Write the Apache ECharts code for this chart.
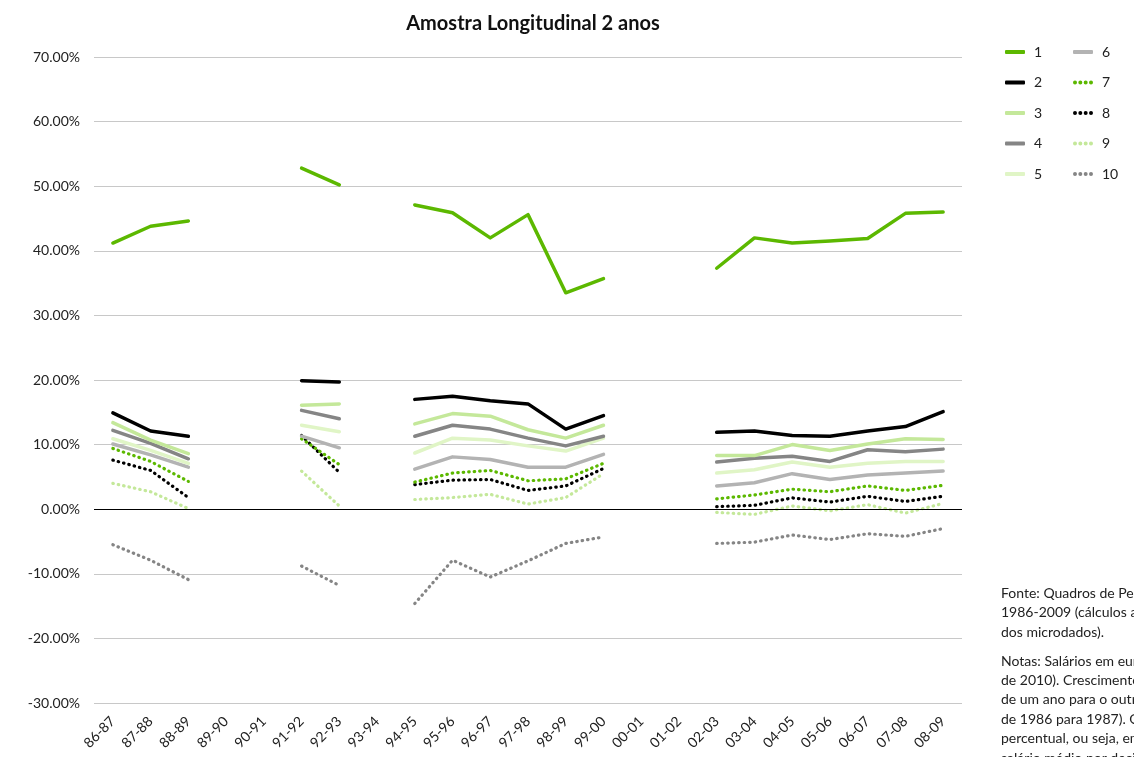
<!DOCTYPE html>
<html><head><meta charset="utf-8">
<script src="https://cdn.jsdelivr.net/npm/echarts@6/dist/echarts.min.js"></script>
<style>html,body{margin:0;padding:0;background:#fff}#c{width:1134px;height:757px}</style>
</head><body><div id="c"></div>
<script>
const categories = ['86-87','87-88','88-89','89-90','90-91','91-92','92-93','93-94','94-95','95-96','96-97','97-98','98-99','99-00','00-01','01-02','02-03','03-04','04-05','05-06','06-07','07-08','08-09'];
const yTicks = [-30,-20,-10,0,10,20,30,40,50,60,70];
const s1  = [41.2,43.8,44.6,null,null,52.8,50.2,null,47.1,45.9,42.0,45.6,33.5,35.7,null,null,37.3,42.0,41.2,41.5,41.9,45.8,46.0];
const s2  = [14.9,12.1,11.3,null,null,19.9,19.7,null,17.0,17.5,16.8,16.3,12.4,14.5,null,null,11.9,12.1,11.4,11.3,12.1,12.8,15.1];
const s3  = [13.4,10.7,8.6,null,null,16.1,16.3,null,13.2,14.8,14.4,12.3,11.0,13.0,null,null,8.3,8.3,10.0,9.1,10.1,10.9,10.8];
const s4  = [12.2,10.2,7.8,null,null,15.3,14.0,null,11.3,13.0,12.4,11.0,9.8,11.3,null,null,7.3,7.9,8.2,7.4,9.2,8.9,9.3];
const s5  = [10.9,9.1,7.1,null,null,13.0,12.0,null,8.7,11.0,10.7,9.8,9.0,11.0,null,null,5.6,6.1,7.3,6.5,7.1,7.4,7.4];
const s6  = [10.1,8.4,6.5,null,null,11.3,9.5,null,6.2,8.1,7.7,6.5,6.5,8.5,null,null,3.6,4.1,5.5,4.6,5.3,5.6,5.9];
const s7  = [9.4,7.4,4.3,null,null,10.9,6.9,null,4.2,5.6,6.0,4.4,4.7,7.1,null,null,1.6,2.2,3.1,2.7,3.6,2.9,3.7];
const s8  = [7.6,6.0,1.8,null,null,11.4,5.7,null,3.8,4.5,4.6,2.9,3.6,6.3,null,null,0.4,0.6,1.75,1.1,2.0,1.2,2.0];
const s9  = [4.0,2.7,0.1,null,null,5.9,0.5,null,1.5,1.8,2.3,0.8,1.8,5.5,null,null,-0.5,-0.8,0.5,-0.25,0.7,-0.6,0.9];
const s10 = [-5.5,-7.9,-10.9,null,null,-8.8,-11.8,null,-14.6,-7.9,-10.5,-8.0,-5.3,-4.3,null,null,-5.3,-5.1,-4.0,-4.7,-3.8,-4.2,-3.0];
const seriesNames = ['1','2','3','4','5','6','7','8','9','10'];
const seriesData = [s1,s2,s3,s4,s5,s6,s7,s8,s9,s10];
const colors = ['#5cb800','#000000','#c4e89a','#858585','#e0f5c6','#b3b3b3','#5cb800','#000000','#c4e89a','#858585'];
const dotted = [false,false,false,false,false,false,true,true,true,true];
const noteLines = ['Fonte: Quadros de Pessoal,','1986-2009 (cálculos a partir','dos microdados).','','Notas: Salários em euros (preços','de 2010). Crescimento salarial','de um ano para o outro (p.ex.','de 1986 para 1987). O crescimento','percentual, ou seja, em termos do','salário médio por decil.'];

const FONT = 'Lato, "Open Sans", sans-serif';
const DOTS = 'path://M0,2a2,2 0 1,0 4,0a2,2 0 1,0 -4,0M5.33,2a2,2 0 1,0 4,0a2,2 0 1,0 -4,0M10.67,2a2,2 0 1,0 4,0a2,2 0 1,0 -4,0M16,2a2,2 0 1,0 4,0a2,2 0 1,0 -4,0';
const series = seriesNames.map((n,i)=>({
  name:n, type:'line', data:seriesData[i], symbol:'none', connectNulls:false,
  lineStyle:{color:colors[i], width: dotted[i]?3.2:3.5, type: dotted[i]?[0.5,5]:'solid', cap:'round', join:'round'},
  itemStyle:{color:colors[i]}, z: 10-i, animation:false
}));
series[0].markLine = {silent:true, symbol:'none', label:{show:false}, animation:false,
  lineStyle:{color:'#000', width:1, type:'solid'}, data:[{yAxis:0}]};

const graphics = [];
noteLines.forEach((t,i)=>{
  if(!t) return;
  const y = i<3 ? 586 + i*19.7 : 654 + (i-4)*19.4;
  graphics.push({type:'text', left:1001, top:y, style:{text:t, font:'14px '+FONT, fill:'#222'}});
});

const legendItem = (n,i)=>({name:n, icon: dotted[i] ? DOTS : 'roundRect'});
const legendCommon = {orient:'vertical', itemWidth:20, itemHeight:4, itemGap:16.5, padding:0,
  textStyle:{fontFamily:FONT, fontSize:14, color:'#222', padding:[0,0,0,4]}};
const chart = echarts.init(document.getElementById('c'));
chart.setOption({
  animation:false,
  title:{text:'Amostra Longitudinal 2 anos', left:528, top:9, textAlign:'center',
    textStyle:{fontFamily:FONT, fontSize:20, fontWeight:'bold', color:'#111'}},
  legend:[
    Object.assign({}, legendCommon, {left:1005, top:45, data:seriesNames.slice(0,5).map((n,k)=>legendItem(n,k))}),
    Object.assign({}, legendCommon, {left:1073, top:45, data:seriesNames.slice(5).map((n,k)=>legendItem(n,k+5))})
  ],
  grid:{left:94, right:172, top:57, bottom:54, containLabel:false},
  xAxis:{type:'category', data:categories, boundaryGap:true,
    axisLine:{show:false, onZero:false}, axisTick:{show:false},
    axisLabel:{rotate:45, interval:0, fontFamily:FONT, fontSize:14, color:'#222', margin:16}},
  yAxis:{type:'value', min:-30, max:70, interval:10,
    axisLine:{show:false}, axisTick:{show:false},
    splitLine:{lineStyle:{color:'#c8c8c8', width:1}},
    axisLabel:{formatter:v=>v.toFixed(2)+'%', fontFamily:FONT, fontSize:14, color:'#222', margin:14}},
  series: series,
  graphic: graphics
});
</script></body></html>
